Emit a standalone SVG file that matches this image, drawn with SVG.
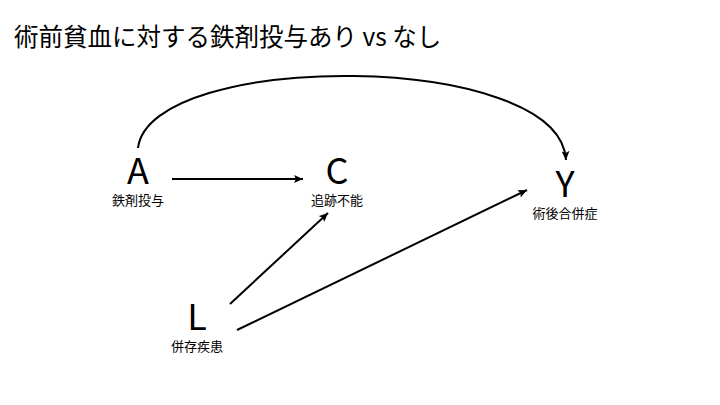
<svg xmlns="http://www.w3.org/2000/svg" width="720" height="405" viewBox="0 0 720 405">
<defs>
<marker id="ah" markerWidth="10" markerHeight="8" refX="9" refY="4" orient="auto" markerUnits="userSpaceOnUse">
<path d="M0,0 L9,4 L0,8 L2,4 Z" fill="#000"/>
</marker>
<style>
.t{font-family:"Noto Sans CJK JP","Noto Sans",sans-serif;fill:#000}
.n{font-size:36px;text-anchor:middle}
.l{font-size:13px;text-anchor:middle}
.e{fill:none;stroke:#000;stroke-width:2;marker-end:url(#ah)}
</style>
</defs>
<rect width="720" height="405" fill="#fff"/>
<text class="t" x="14" y="46" font-size="24.5">術前貧血に対する鉄剤投与あり vs なし</text>
<g id="connectors">
<path class="e" d="M138,148 C150,50 560,50 566,160"/>
<path class="e" d="M172,179 L303,179"/>
<path class="e" d="M230,304 L328,213"/>
<path class="e" d="M237,330 L527,190"/>
</g>
<g id="A"><text class="t n" x="138" y="184">A</text><text class="t l" x="138" y="205">鉄剤投与</text></g>
<g id="C"><text class="t n" x="337" y="184">C</text><text class="t l" x="337" y="205">追跡不能</text></g>
<g id="Y"><text class="t n" x="565" y="197">Y</text><text class="t l" x="565" y="218">術後合併症</text></g>
<g id="L"><text class="t n" x="197" y="330">L</text><text class="t l" x="197" y="351">併存疾患</text></g>
</svg>
